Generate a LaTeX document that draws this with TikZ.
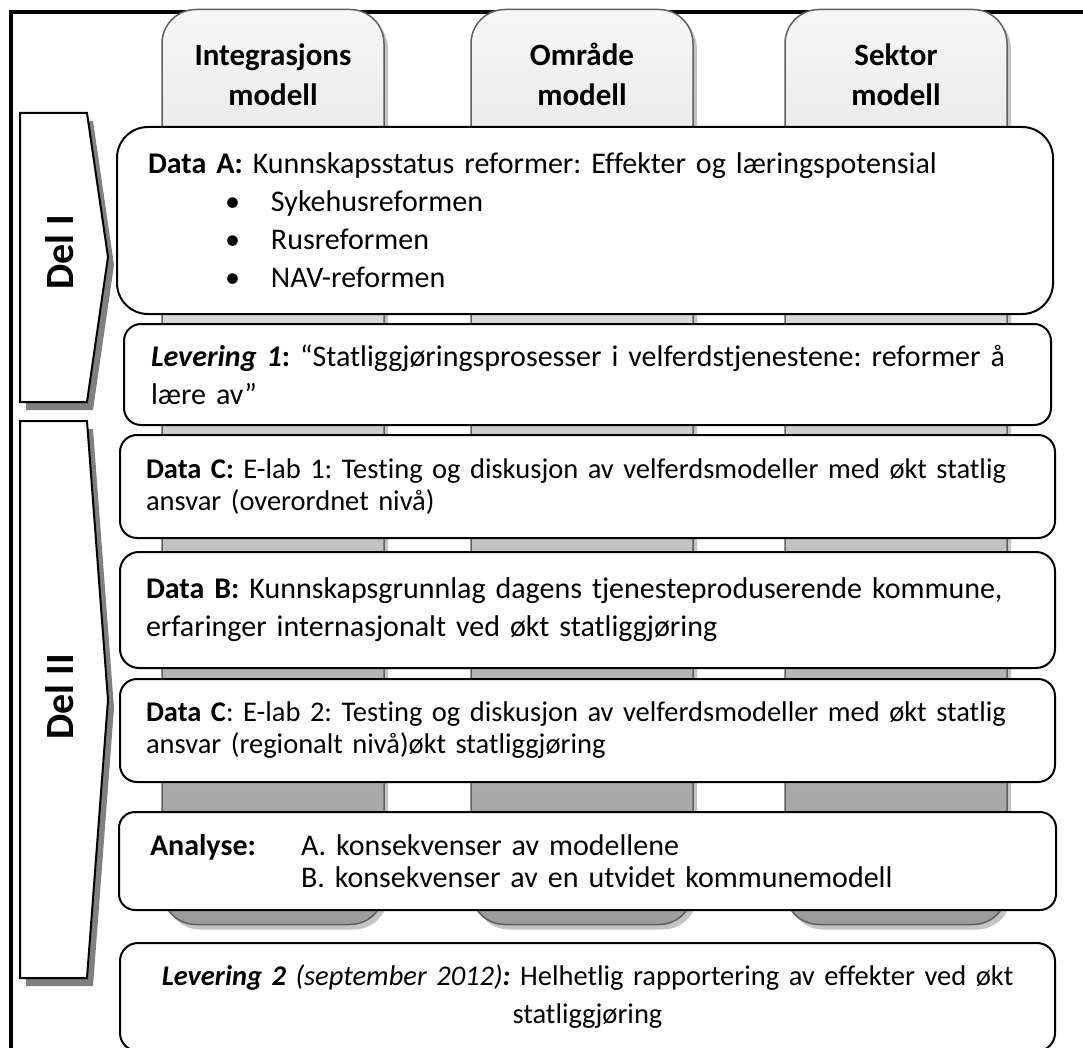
\documentclass[tikz,border=0pt]{standalone}
\usepackage{fontspec}
\setmainfont{Carlito}[Ligatures=NoCommon]
\usetikzlibrary{positioning, shadows}
\frenchspacing

\definecolor{pillartop}{RGB}{247,247,247}
\definecolor{pillarbot}{RGB}{156,156,156}
\definecolor{pillarline}{RGB}{95,95,95}
\definecolor{pillarshade}{RGB}{196,196,196}
\definecolor{partshade}{RGB}{128,128,128}

\begin{document}
\begin{tikzpicture}[
        x=1pt, y=-1pt,
        pillar/.style={rectangle, rounded corners=34pt, draw=pillarline, line width=1.5pt, top color=pillartop, bottom color=pillarbot, minimum width=222pt, minimum height=915pt, drop shadow={shadow xshift=4pt, shadow yshift=-5pt, fill=pillarshade, opacity=1}},
        header/.style={align=center, font=\fontsize{31}{40}\selectfont\bfseries},
        box/.style={rectangle, draw=black, line width=2pt, fill=white, align=left, inner ysep=0pt, font=\fontsize{30}{38}\selectfont},
        part/.style={draw=black, line width=2pt, fill=white},
        partlabel/.style={rotate=90, font=\fontsize{40}{40}\selectfont\bfseries},
        ]
        \useasboundingbox (0,0) rectangle (1083,1048);

        % outer frame (only left and top edge inside the page)
        \draw[line width=4pt] (11,1100) -- (11,12) -- (1100,12);

        % model columns
        \node[pillar] (integ) at (273,467) {};
        \node[pillar] (omraade) at (582,467) {};
        \node[pillar] (sektor) at (896,467) {};

        \node[header] (integtxt) at (273,78) {Integrasjons\strut\\modell\strut};
        \node[header] (omraadetxt) at (582,78) {Område\strut\\modell\strut};
        \node[header] (sektortxt) at (896,78) {Sektor\strut\\modell\strut};

        % part arrows
        \fill[partshade] (26,121) -- (93,121) -- (114,265) -- (93,410) -- (26,410) -- cycle;
        \draw[part] (20,113) -- (87,113) -- (108,257) -- (87,402) -- (20,402) -- cycle;
        \node[partlabel] (del1) at (60,252) {Del I};

        \fill[partshade] (26,429) -- (93,429) -- (114,708) -- (93,986) -- (26,986) -- cycle;
        \draw[part] (20,421) -- (87,421) -- (108,700) -- (87,978) -- (20,978) -- cycle;
        \node[partlabel] (del2) at (60,697) {Del II};

        % content boxes
        \node[box, rounded corners=31pt, minimum width=936pt, minimum height=187pt, inner xsep=31pt, text width=874pt, anchor=north west] (dataA) at (116,126)
            {\textbf{Data A:} Kunnskapsstatus reformer: Effekter og læringspotensial\\
            \hspace*{77pt}\makebox[46pt][l]{\textbullet}Sykehusreformen\\
            \hspace*{77pt}\makebox[46pt][l]{\textbullet}Rusreformen\\
            \hspace*{77pt}\makebox[46pt][l]{\textbullet}NAV-reformen};
        \node[box, rounded corners=17pt, minimum width=927pt, minimum height=101pt, inner xsep=27pt, text width=873pt, below=8pt of dataA, xshift=2.5pt] (lev1)
            {\textbf{\textit{Levering 1}:} “Statliggjøringsprosesser i velferdstjenestene: reformer å\\lære av”};
        \node[box, rounded corners=17pt, minimum width=935pt, minimum height=103pt, inner xsep=26pt, text width=883pt, below=8pt of lev1, font=\fontsize{28.5}{32}\selectfont] (dataC1)
            {\textbf{Data C:} E-lab 1: Testing og diskusjon av velferdsmodeller med økt statlig\\ansvar (overordnet nivå)};
        \node[box, rounded corners=19pt, minimum width=935pt, minimum height=116pt, inner xsep=26pt, text width=883pt, below=12pt of dataC1] (dataB)
            {\textbf{Data B:} Kunnskapsgrunnlag dagens tjenesteproduserende kommune,\\erfaringer internasjonalt ved økt statliggjøring};
        \node[box, rounded corners=17pt, minimum width=935pt, minimum height=103pt, inner xsep=26pt, text width=883pt, below=9pt of dataB, font=\fontsize{28.5}{32}\selectfont] (dataC2)
            {\textbf{Data C}: E-lab 2: Testing og diskusjon av velferdsmodeller med økt statlig\\ansvar (regionalt nivå)økt statliggjøring};
        \node[box, rounded corners=16pt, minimum width=937pt, minimum height=98pt, inner xsep=31pt, text width=875pt, below=28pt of dataC2, font=\fontsize{30}{32}\selectfont] (analyse)
            {\makebox[151pt][l]{\textbf{Analyse:}}A. konsekvenser av modellene\\
            \hspace*{151pt}B. konsekvenser av en utvidet kommunemodell};
        \node[box, rounded corners=18pt, minimum width=935pt, minimum height=108pt, inner xsep=26pt, text width=883pt, align=center, below=31pt of analyse, font=\fontsize{28.5}{38}\selectfont] (lev2)
            {\textbf{\textit{Levering 2}} \textit{(september 2012)\textbf{:}} Helhetlig rapportering av effekter ved økt\\statliggjøring};

    \end{tikzpicture}
\end{document}
